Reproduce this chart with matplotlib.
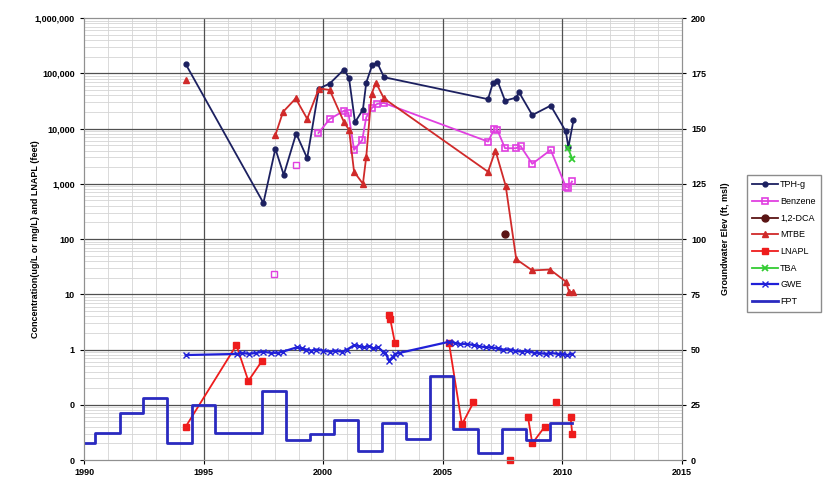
import numpy as np
import matplotlib
matplotlib.use("Agg")
import matplotlib.pyplot as plt
from matplotlib.ticker import FuncFormatter, MultipleLocator, LogLocator, NullFormatter

plt.rcParams['font.family'] = ['Liberation Sans', 'DejaVu Sans']
plt.rcParams['font.weight'] = 'bold'

# TPH-g (ug/L)
tph_years = [1994.25, 1997.5, 1998.0, 1998.35, 1998.87, 1999.33, 1999.82, 2000.27, 2000.87, 2001.08,
             2001.33, 2001.66, 2001.8, 2002.05, 2002.26, 2002.54, 2006.89, 2007.1, 2007.28, 2007.6,
             2008.05, 2008.19, 2008.74, 2009.51, 2010.14, 2010.25, 2010.46]
tph_vals = [147000, 450, 4300, 1450, 8100, 2900, 53000, 65000, 117000, 81000,
            13000, 22000, 68000, 141000, 155000, 85000, 34000, 68000, 74000, 32000,
            36000, 45000, 17500, 26000, 8900, 4600, 14000]

# Benzene
benz_years = [1999.8, 2000.27, 2000.87, 2001.05, 2001.29, 2001.63, 2001.8, 2002.05, 2002.26, 2002.54,
              2006.89, 2007.15, 2007.28, 2007.6, 2008.05, 2008.25, 2008.74, 2009.51, 2010.14, 2010.25, 2010.4]
benz_vals = [8300, 14800, 21000, 19500, 4100, 6200, 16000, 24000, 28000, 29000,
             5800, 9700, 9400, 4400, 4400, 4800, 2300, 4100, 890, 850, 1100]
benz_spot_years = [1997.94, 1998.85]
benz_spot_vals = [23, 2200]

# 1,2-DCA
dca_years = [2007.6]
dca_vals = [125]

# MTBE
mtbe_years = [1998.0, 1998.32, 1998.85, 1999.33, 1999.82, 2000.27, 2000.87, 2001.08, 2001.29, 2001.66,
              2001.8, 2002.02, 2002.2, 2002.54, 2006.89, 2007.2, 2007.63, 2008.07, 2008.74, 2009.48,
              2010.14, 2010.28, 2010.46]
mtbe_vals = [7600, 20000, 35000, 15000, 53000, 50000, 13000, 9500, 1650, 1000,
             3100, 42000, 68000, 35000, 1650, 4000, 910, 43, 27, 28,
             17, 11, 11]
mtbe_spot_years = [1994.25]
mtbe_spot_vals = [77000]

# LNAPL (feet), nan separates unconnected runs
lnapl_years = [1994.25, 1996.37, 1996.87, 1997.45, 2000.0, 2002.75, 2002.8, 2003.0, 2004.0,
               2005.26, 2005.8, 2006.28, 2007.0, 2007.8, 2008.2, 2008.56, 2008.74, 2009.26, 2009.5,
               2009.74, 2010.0, 2010.34, 2010.41]
lnapl_vals = [0.04, 1.2, 0.27, 0.63, np.nan, 4.2, 3.6, 1.3, np.nan,
              1.3, 0.044, 0.11, np.nan, 0.01, np.nan, 0.06, 0.02, 0.04, np.nan,
              0.11, np.nan, 0.06, 0.03]

# TBA
tba_years = [2010.22, 2010.42]
tba_vals = [4500, 2800]

# Groundwater elevation (ft, msl)
gwe_years = [1994.25, 1996.4, 1996.6, 1996.9, 1997.2, 1997.5, 1997.8, 1998.1, 1998.3, 1998.9,
             1999.1, 1999.3, 1999.5, 1999.7, 2000.0, 2000.3, 2000.5, 2000.8, 2001.0, 2001.3,
             2001.5, 2001.7, 2001.9, 2002.1, 2002.3, 2002.5, 2002.6, 2002.75, 2002.9, 2003.0,
             2003.2, 2005.26, 2005.5, 2005.7, 2006.0, 2006.3, 2006.5, 2006.8, 2007.0, 2007.3,
             2007.5, 2007.8, 2008.0, 2008.3, 2008.5, 2008.8, 2009.0, 2009.3, 2009.5, 2009.8,
             2010.0, 2010.2, 2010.4]
gwe_vals = [47.5, 48, 48.5, 48, 48.5, 49, 48.5, 48.5, 49, 51,
            50.5, 50, 49.5, 50, 49.5, 49, 49.5, 49, 50, 52,
            51.5, 51, 51.5, 50.5, 51, 49, 48.5, 45, 46.5, 48,
            48.5, 53.5, 53, 52.5, 52.5, 52, 51.5, 51, 51, 50.5,
            50, 50, 49.5, 49, 49.5, 48.5, 48.5, 48, 48.5, 48,
            48, 47.5, 48]

# FPT step series
fpt_years = [1990.0, 1990.46, 1991.49, 1992.47, 1993.48, 1994.5, 1995.48, 1997.43, 1998.46, 1999.44,
             2000.45, 2001.47, 2002.47, 2003.45, 2004.45, 2005.43, 2006.48, 2007.46, 2008.47, 2009.47,
             2010.41]
fpt_vals = [7.5, 12, 21.4, 27.9, 7.8, 24.9, 12.4, 31.4, 9, 11.8,
            18.1, 4.2, 16.6, 9.4, 38, 13.9, 3.3, 13.9, 9.0, 16.9,
            16.9]

fig = plt.figure(figsize=(8.35, 4.9), dpi=100)
ax = fig.add_axes([0.1006, 0.0612, 0.7162, 0.9020])
ax2 = ax.twinx()

ax.set_yscale('log')
ax.set_ylim(0.01, 1e6)
ax.set_xlim(1990, 2015)
ax.xaxis.set_major_locator(MultipleLocator(5))
ax.xaxis.set_minor_locator(MultipleLocator(1))
ax.xaxis.set_minor_formatter(NullFormatter())
ax.yaxis.set_major_locator(LogLocator(base=10, numticks=20))
ax.yaxis.set_minor_locator(LogLocator(base=10, subs=np.arange(2, 10), numticks=100))
ax.yaxis.set_major_formatter(FuncFormatter(lambda v, p: f"{v:,.0f}"))
ax.yaxis.set_minor_formatter(NullFormatter())

# light minor grid from the axis, dark major grid drawn on top of it
ax.grid(which='minor', color='#d4d4d4', linewidth=0.6)
ax.set_axisbelow(True)
for yr in range(1995, 2015, 5):
    ax.axvline(yr, color='#505050', linewidth=0.9, zorder=1)
for dec in [0.1, 1, 10, 100, 1000, 1e4, 1e5]:
    ax.axhline(dec, color='#505050', linewidth=0.9, zorder=1)

ax.tick_params(which='major', labelsize=6.5, length=3, direction='out')
ax.tick_params(axis='x', which='major', pad=2.5)
ax.tick_params(which='minor', length=0)

ax2.set_ylim(0, 200)
ax2.yaxis.set_major_locator(MultipleLocator(25))
ax2.tick_params(labelsize=6.5, length=3, direction='out')

for a in (ax, ax2):
    for s in a.spines.values():
        s.set_color('#909090')
    for lab in a.get_yticklabels() + a.get_xticklabels():
        lab.set_fontweight('bold')

navy = '#1c2060'
magenta = '#e040e0'
red_m = '#d02a2a'
red_l = '#ee1c1c'

h1, = ax.plot(tph_years, tph_vals, color=navy, marker='o', markersize=3.5, linewidth=1.3, label='TPH-g')
h2, = ax.plot(benz_years, benz_vals, color=magenta, marker='s', markersize=4.5, markerfacecolor='none',
              markeredgewidth=1.2, linewidth=1.3, label='Benzene')
ax.plot(benz_spot_years, benz_spot_vals, color=magenta, marker='s', markersize=4.5, markerfacecolor='none',
        markeredgewidth=1.0, linestyle='none')
h3, = ax.plot(dca_years, dca_vals, color='#5a1414', marker='o', markersize=5, linewidth=1.3, label='1,2-DCA')
h4, = ax.plot(mtbe_years, mtbe_vals, color=red_m, marker='^', markersize=4, linewidth=1.3, label='MTBE')
ax.plot(mtbe_spot_years, mtbe_spot_vals, color=red_m, marker='^', markersize=5, linestyle='none')
h5, = ax.plot(lnapl_years, lnapl_vals, color=red_l, marker='s', markersize=5, linewidth=1.3,
              label='LNAPL', clip_on=False, zorder=4)
h6, = ax.plot(tba_years, tba_vals, color='#33cc33', marker='x', markersize=4, markeredgewidth=1.3,
              linewidth=1.3, label='TBA')

h7, = ax2.plot(gwe_years, gwe_vals, color='#2020d8', marker='x', markersize=5, markeredgewidth=1.0,
               linewidth=1.6, label='GWE')
h8, = ax2.plot(fpt_years, fpt_vals, color='#2a2ac0', drawstyle='steps-post', linewidth=2.0, label='FPT')

ax.set_ylabel('Concentration(ug/L or mg/L) and LNAPL (feet)', fontsize=6.5, fontweight='bold')
ax.yaxis.set_label_coords(-0.074, 0.5)
ax2.set_ylabel('Groundwater Elev (ft, msl)', fontsize=6.5, fontweight='bold')
ax2.yaxis.set_label_coords(1.066, 0.5)

fig.legend(handles=[h1, h2, h3, h4, h5, h6, h7, h8], loc='upper left', bbox_to_anchor=(0.889, 0.652),
           prop={'size': 6.5, 'weight': 'normal'}, frameon=True, fancybox=False, edgecolor='#707070',
           labelspacing=0.85, handlelength=2.8, borderpad=0.6, handletextpad=0.3)

fig.savefig('out.png', dpi=100)
